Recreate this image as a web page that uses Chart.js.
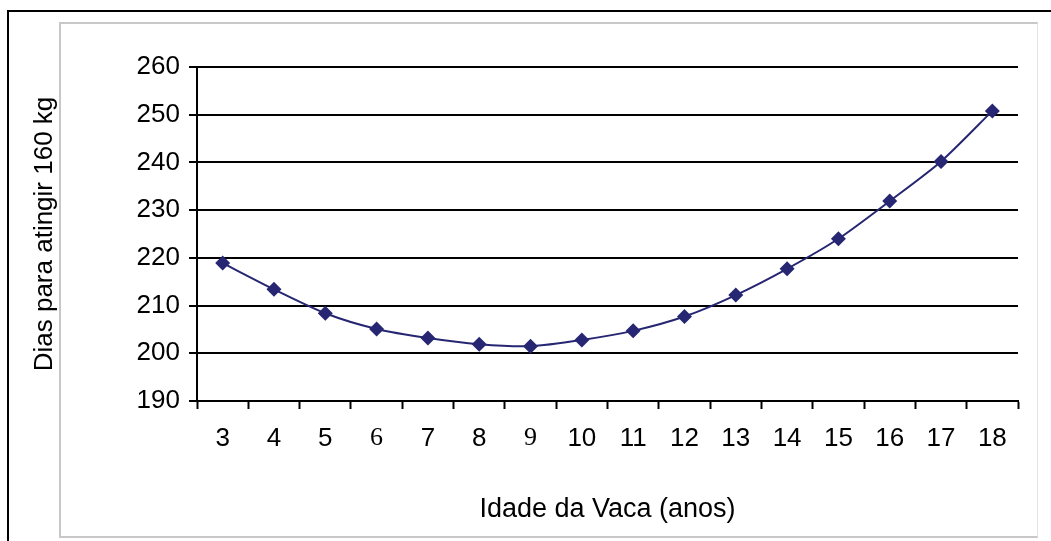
<!DOCTYPE html>
<html>
<head>
<meta charset="utf-8">
<script src="https://cdn.jsdelivr.net/npm/chart.js@4/dist/chart.umd.min.js"></script>
<style>
  html, body { margin: 0; padding: 0; background: #fff; }
  #wrap { position: relative; width: 1051px; height: 541px; overflow: hidden; }
  #outer { position: absolute; left: 7px; top: 10px; width: 1100px; height: 600px; border-left: 2px solid #000; border-top: 2px solid #000; }
  #inner { position: absolute; left: 59px; top: 22px; width: 976px; height: 512px; border: 2px solid #c8c8c8; border-right: 1px solid #e4e4e4; }
  canvas { position: absolute; left: 0; top: 0; }
</style>
</head>
<body>
<div id="wrap">
  <div id="outer"></div>
  <div id="inner"></div>
  <canvas id="myChart" width="1051" height="541"></canvas>
</div>
<script>
// idade da vaca (anos)
const idades = ['3', '4', '5', '6', '7', '8', '9', '10', '11', '12', '13', '14', '15', '16', '17', '18'];
// dias para atingir 160 kg
const dias = [218.9, 213.4, 208.4, 205.1, 203.2, 201.9, 201.5, 202.8, 204.7, 207.7, 212.2, 217.7, 224.0, 231.9, 240.2, 250.8];
const yMin = 190;
const yMax = 260;
const yStep = 10;

// labels 6 and 9 look serif in the original
const serifLabels = ['6', '9'];

let ctx = document.getElementById('myChart').getContext('2d');

let myChart = new Chart(ctx, {
  type: 'line',
  data: {
    labels: idades,
    datasets: [{
      data: dias,
      borderColor: '#262673',
      backgroundColor: '#262673',
      borderWidth: 2,
      tension: 0.25,
      pointStyle: 'rectRot',
      pointRadius: 7.5,
      pointBorderWidth: 0
    }]
  },
  options: {
    responsive: false,
    animation: false,
    events: [],
    layout: {
      padding: { left: 0, top: 67, right: 33, bottom: 0 }
    },
    plugins: {
      legend: { display: false },
      tooltip: { enabled: false }
    },
    scales: {
      x: {
        offset: true,
        afterFit: (scale) => { scale.height = 140; },
        grid: {
          offset: true,
          drawOnChartArea: false,
          drawTicks: true,
          tickLength: 8,
          tickColor: '#000',
          tickWidth: 2
        },
        border: { color: '#000', width: 2 },
        ticks: {
          color: '#000',
          padding: 14,
          maxRotation: 0,
          autoSkip: false,
          font: (c) => {
            const lab = c.tick ? idades[c.tick.value] : '';
            if (serifLabels.includes(lab)) {
              return { family: '"Liberation Serif", serif', size: 26 };
            }
            return { family: '"Liberation Sans", Arial, sans-serif', size: 26 };
          }
        },
        title: {
          display: true,
          text: 'Idade da Vaca (anos)',
          color: '#000',
          font: { family: '"Liberation Sans", Arial, sans-serif', size: 27 },
          padding: { top: 0, bottom: 15 }
        }
      },
      y: {
        min: yMin,
        max: yMax,
        afterFit: (scale) => { scale.width = 197; },
        grid: {
          color: '#000',
          lineWidth: 2,
          drawTicks: true,
          tickLength: 8
        },
        border: { color: '#000', width: 2 },
        ticks: {
          stepSize: yStep,
          color: '#000',
          padding: 9,
          font: { family: '"Liberation Sans", Arial, sans-serif', size: 26 }
        },
        title: {
          display: true,
          text: 'Dias para atingir 160 kg',
          color: '#000',
          font: { family: '"Liberation Sans", Arial, sans-serif', size: 26 },
          padding: { top: 29, bottom: 0 }
        }
      }
    }
  }
});
</script>
</body>
</html>
